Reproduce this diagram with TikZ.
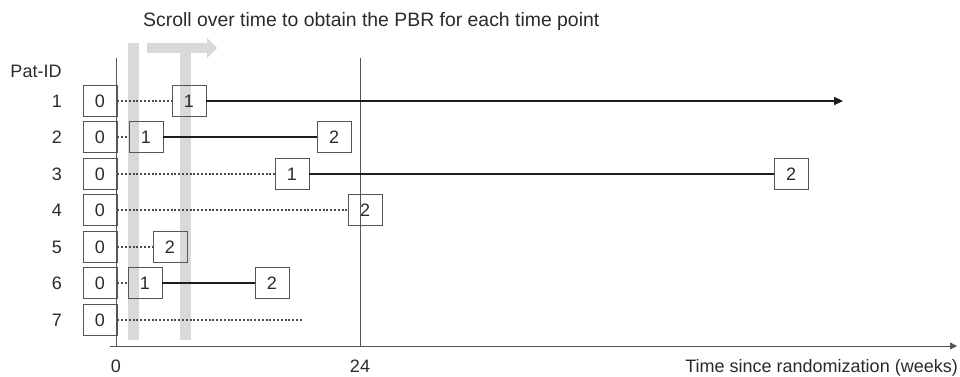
\documentclass[tikz,border=0pt]{standalone}
\usepackage{fontspec}
\setmainfont{Liberation Sans}
\usetikzlibrary{arrows.meta}
\definecolor{txt}{HTML}{2A2A2A}
\definecolor{boxgray}{HTML}{555555}
\definecolor{linec}{HTML}{1E1E1E}
\definecolor{dotgray}{HTML}{4A4A4A}
\definecolor{barc}{HTML}{D9D9D9}
\definecolor{axisc}{HTML}{555555}
\begin{document}
\begin{tikzpicture}[x=1pt,y=-1pt,
  box/.style={draw=boxgray, line width=0.8pt, minimum width=34pt, minimum height=31pt, inner sep=0pt, font=\fontsize{18}{18}\selectfont, text=txt},
  dots/.style={draw=dotgray, line width=2.3pt, dash pattern=on 2pt off 1.8pt},
  solidl/.style={draw=linec, line width=2.2pt},
  lbl/.style={text=txt, font=\fontsize{18}{18}\selectfont, inner sep=0pt},
  axis/.style={draw=axisc, line width=0.9pt},
  bar/.style={fill=barc, draw=none}
]
\useasboundingbox (0,0) rectangle (960,377);

% title
\node[lbl, anchor=west, font=\fontsize{19.4}{19.4}\selectfont] (title) at (143,21) {Scroll over time to obtain the PBR for each time point};

% gray scroll indicators
\fill[barc] (147,43) -- (207,43) -- (207,38) -- (217,48) -- (207,58) -- (207,53) -- (147,53) -- cycle;
\fill[barc] (128,43) rectangle (139,340);
\fill[barc] (180,53) rectangle (191,340);

% axes
\coordinate (yt) at (116,58);
\coordinate (org) at (116,346);
\coordinate (xs) at (110,346);
\coordinate (xe) at (957,346);
\coordinate (t24t) at (360,58);
\coordinate (t24b) at (360,346);
\draw[axis] (yt) -- (org);
\draw[axis] (t24t) -- (t24b);
\draw[axis, -{Triangle[length=7pt,width=7pt]}] (xs) -- (xe);
\node[lbl] (tick0) at (116,366) {0};
\node[lbl] (tick24) at (360,366) {24};
\node[lbl, anchor=east] (xlab) at (958,368) {Time since randomization (weeks)};

% row labels
\node[lbl] (pid) at (36,71) {Pat-ID};
\foreach \i/\y in {1/101,2/137,3/174,4/210,5/247,6/283,7/320}
  \node[lbl] (r\i) at (57,\y) {\i};

% boxes
\node[box] (n10) at (100,101) {0};
\node[box] (n11) at (189,101) {1};
\coordinate (e1) at (843,101);

\node[box] (n20) at (100,137) {0};
\node[box] (n21) at (146,137) {1};
\node[box] (n22) at (334,137) {2};

\node[box] (n30) at (100,174) {0};
\node[box] (n31) at (292,174) {1};
\node[box] (n32) at (791,174) {2};

\node[box] (n40) at (100,210) {0};
\node[box] (n42) at (365,210) {2};

\node[box] (n50) at (100,247) {0};
\node[box] (n52) at (170,247) {2};

\node[box] (n60) at (100,283) {0};
\node[box] (n61) at (145,283) {1};
\node[box] (n62) at (272,283) {2};

\node[box] (n70) at (100,320) {0};
\coordinate (e7) at (302,320);

% connectors
\draw[dots] (n10.east) -- (n11.west);
\draw[solidl, -{Triangle[length=9pt,width=8pt]}] (n11.east) -- (e1);

\draw[dots] (n20.east) -- (n21.west);
\draw[solidl] (n21.east) -- (n22.west);

\draw[dots] (n30.east) -- (n31.west);
\draw[solidl] (n31.east) -- (n32.west);

\draw[dots] (n40.east) -- (n42.west);

\draw[dots] (n50.east) -- (n52.west);

\draw[dots] (n60.east) -- (n61.west);
\draw[solidl] (n61.east) -- (n62.west);

\draw[dots] (n70.east) -- (e7);
\end{tikzpicture}
\end{document}
